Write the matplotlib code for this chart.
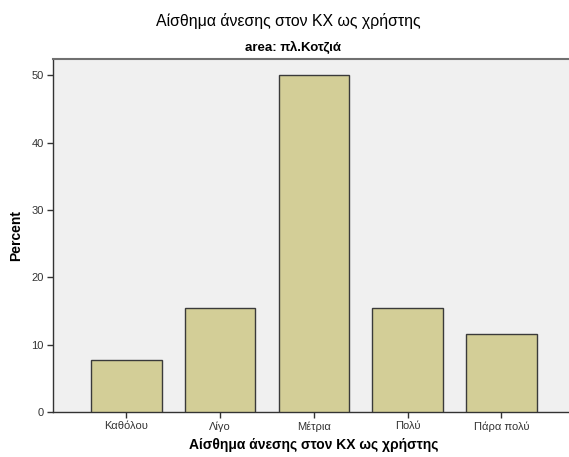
import matplotlib
matplotlib.use('Agg')
import matplotlib.pyplot as plt
import numpy as np

# Data (percent of respondents)
categories = ['Καθόλου', 'Λίγο', 'Μέτρια', 'Πολύ', 'Πάρα πολύ']
percent = [7.69, 15.38, 50.0, 15.38, 11.54]
y_ticks = [0, 10, 20, 30, 40, 50]

title = 'Αίσθημα άνεσης στον ΚΧ ως χρήστης'
subtitle = 'area: πλ.Κοτζιά'

plt.rcParams['font.family'] = ['Liberation Sans', 'DejaVu Sans']

fig = plt.figure(figsize=(5.69, 4.57), dpi=100)
W, H = 569, 457
left, right, top, bottom = 52.7, 575.0, 58.5, 412.0
ax = fig.add_axes([left / W, 1 - bottom / H, (right - left) / W, (bottom - top) / H])
ax.set_facecolor('#F0F0F0')

x = np.arange(len(categories))
ax.bar(x, percent, width=0.752, color='#D3CE97', edgecolor='#3A3A3A', linewidth=1.0, zorder=3)

ax.set_xlim(-0.786, 4.786)
ax.set_ylim(0, 52.5)
ax.set_xticks(x)
ax.set_xticklabels(categories, fontsize=8, color='#333333')
ax.set_yticks(y_ticks)
ax.set_yticklabels([str(v) for v in y_ticks], fontsize=8, color='#333333')
ax.tick_params(axis='both', direction='out', length=4, width=1, color='#333333', pad=2.5)

for side in ['left', 'bottom']:
    ax.spines[side].set_color('#333333')
    ax.spines[side].set_linewidth(1.0)
ax.spines['top'].set_color('#707070')
ax.spines['top'].set_linewidth(1.5)
ax.spines['right'].set_visible(False)

ax.set_ylabel('Percent', fontsize=10, fontweight='bold', labelpad=6)
ax.set_xlabel(title, fontsize=10, fontweight='bold', labelpad=5)

fig.text(288 / W, 1 - 21 / H, title, ha='center', va='center', fontsize=11.4)
fig.text(293 / W, 1 - 47 / H, subtitle, ha='center', va='center', fontsize=9.5, fontweight='bold')

fig.savefig('out.png', dpi=100)
